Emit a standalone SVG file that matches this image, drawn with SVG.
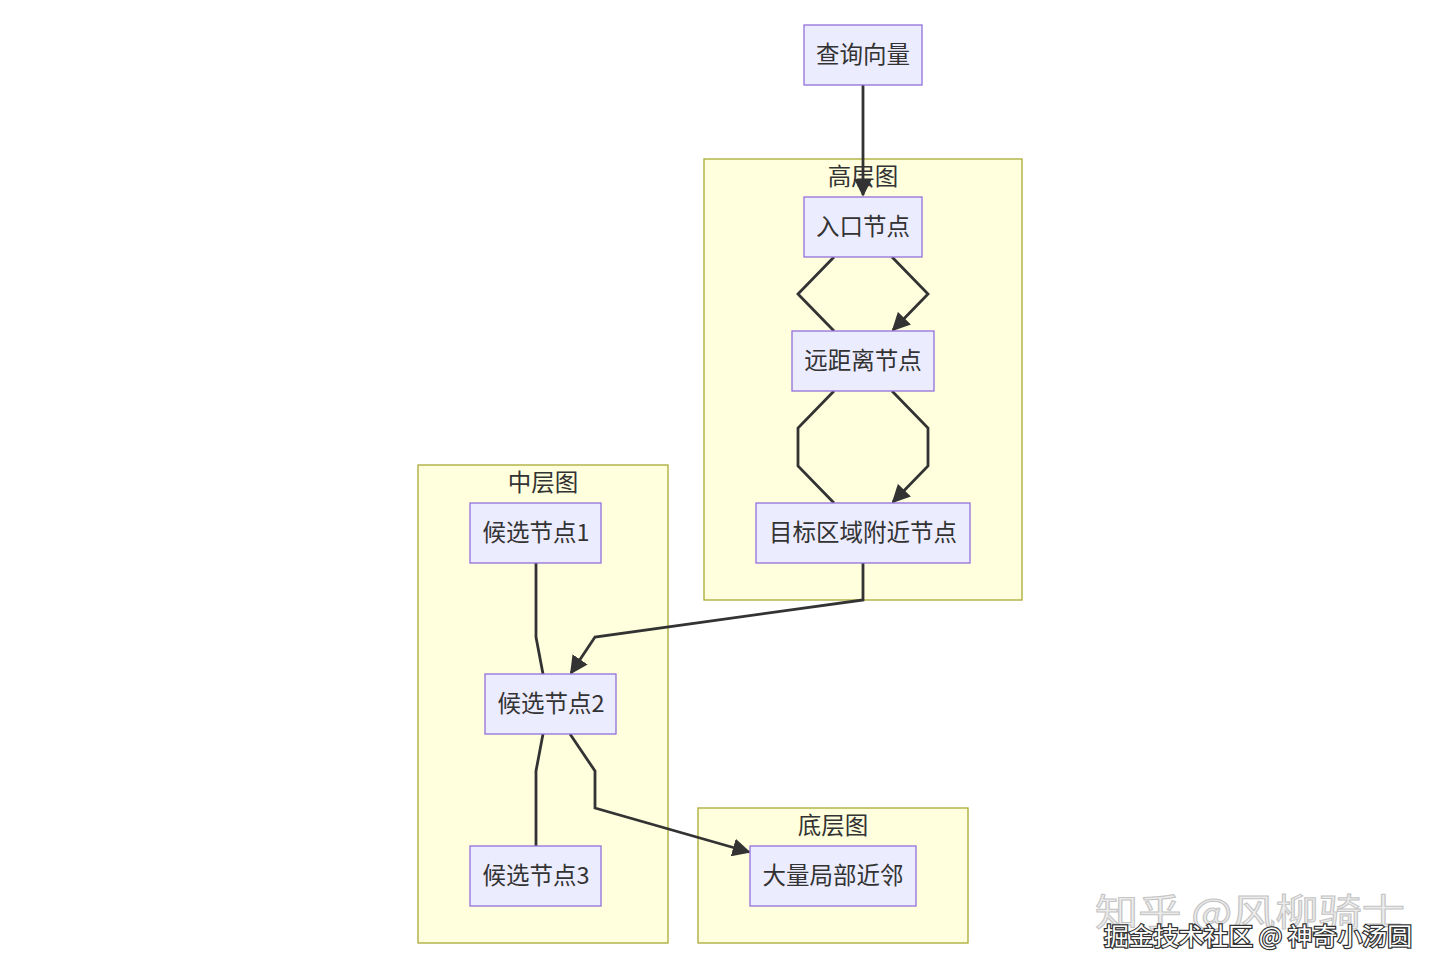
<svg xmlns="http://www.w3.org/2000/svg" width="1440" height="976" viewBox="0 0 1440 976">
<defs>
<style>
.cluster rect{fill:#ffffde;stroke:#aaaa33;stroke-width:1.3}
.node rect{fill:#ECECFF;stroke:#9370DB;stroke-width:1.3}
text{font-family:"Noto Sans CJK SC","Liberation Sans",sans-serif;fill:#333;text-anchor:middle}
.lbl{font-size:23.5px}
.edge{fill:none;stroke:#333;stroke-width:2.8}
</style>
<marker id="arr" viewBox="0 0 10 10" refX="9" refY="5" markerWidth="6.5" markerHeight="6.5" markerUnits="strokeWidth" orient="auto">
<path d="M0,0 L10,5 L0,10 z" fill="#333"/>
</marker>
</defs>
<rect width="1440" height="976" fill="#fff"/>
<g id="cluster-high" class="cluster"><rect x="704" y="159" width="318" height="441"/><text x="863" y="185" class="lbl">高层图</text></g>
<g id="cluster-mid" class="cluster"><rect x="418" y="465" width="250" height="478"/><text x="543" y="491" class="lbl">中层图</text></g>
<g id="cluster-low" class="cluster"><rect x="698" y="808" width="270" height="135"/><text x="833" y="834" class="lbl">底层图</text></g>

<g id="connectors">
<path class="edge" d="M863,85 L863,195" marker-end="url(#arr)"/>
<path class="edge" d="M834,257 L798,294 L834,331"/>
<path class="edge" d="M892,257 L928,294 L893,330" marker-end="url(#arr)"/>
<path class="edge" d="M834,391 L798,428 L798,466 L834,503"/>
<path class="edge" d="M892,391 L928,428 L928,466 L893,502" marker-end="url(#arr)"/>
<path class="edge" d="M863,563 L863,600 L595,637 L571,673" marker-end="url(#arr)"/>
<path class="edge" d="M536,563 L536,637 L543,674"/>
<path class="edge" d="M543,734 L536,771 L536,846"/>
<path class="edge" d="M570,734 L595,771 L595,808 L749,852" marker-end="url(#arr)"/>
</g>

<g id="node-query" class="node"><rect x="804" y="25" width="118" height="60"/><text x="863" y="63" class="lbl">查询向量</text></g>
<g id="node-entry" class="node"><rect x="804" y="197" width="118" height="60"/><text x="863" y="235" class="lbl">入口节点</text></g>
<g id="node-far" class="node"><rect x="792" y="331" width="142" height="60"/><text x="863" y="369" class="lbl">远距离节点</text></g>
<g id="node-target" class="node"><rect x="756" y="503" width="214" height="60"/><text x="863" y="541" class="lbl">目标区域附近节点</text></g>
<g id="node-c1" class="node"><rect x="470" y="503" width="131" height="60"/><text x="536" y="541" class="lbl">候选节点1</text></g>
<g id="node-c2" class="node"><rect x="485" y="674" width="131" height="60"/><text x="551" y="712" class="lbl">候选节点2</text></g>
<g id="node-c3" class="node"><rect x="470" y="846" width="131" height="60"/><text x="536" y="884" class="lbl">候选节点3</text></g>
<g id="node-local" class="node"><rect x="750" y="846" width="166" height="60"/><text x="833" y="884" class="lbl">大量局部近邻</text></g>

<g id="watermark">
<text x="1250" y="926" style="font-size:37px;fill:#ececec;stroke:#c4c4c4;stroke-width:1" textLength="310" lengthAdjust="spacingAndGlyphs">知乎 @风柳骑士</text>
<text x="1258" y="945" style="font-size:24px;fill:#fff;stroke:#333;stroke-width:2.5;paint-order:stroke" textLength="308" lengthAdjust="spacingAndGlyphs">掘金技术社区 @ 神奇小汤圆</text>
</g>
</svg>
